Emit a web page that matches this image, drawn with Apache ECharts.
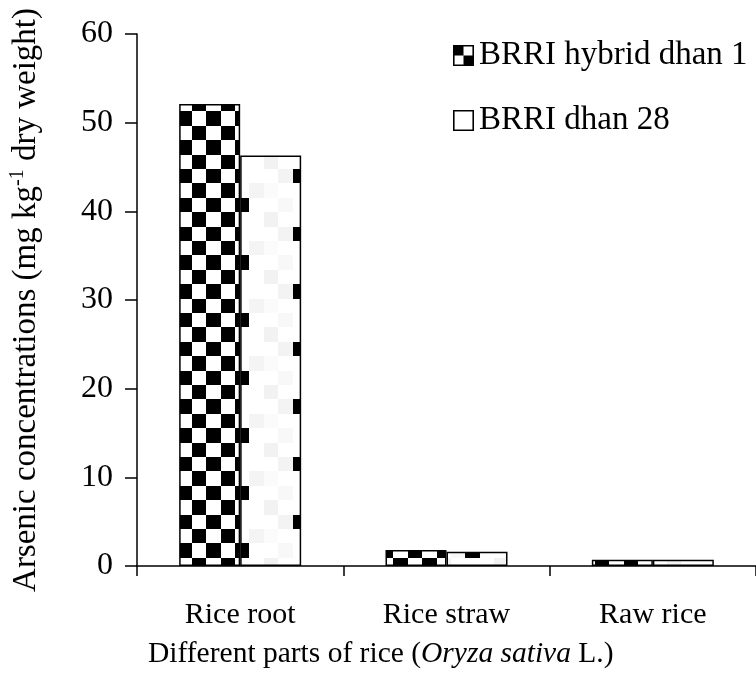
<!DOCTYPE html>
<html>
<head>
<meta charset="utf-8">
<script src="https://cdn.jsdelivr.net/npm/echarts@6/dist/echarts.min.js"></script>
<style>
  html, body { margin: 0; padding: 0; background: #fff; }
  #chart { width: 756px; height: 696px; }
</style>
</head>
<body>
<div id="chart"></div>
<script>
// 数据
var categories = ['Rice root', 'Rice straw', 'Raw rice'];
var hybridValues = [52.1, 1.8, 0.7];   // BRRI hybrid dhan 1
var dhan28Values = [46.3, 1.6, 0.7];   // BRRI dhan 28
var yTicks = [0, 10, 20, 30, 40, 50, 60];
var seriesNames = ['BRRI hybrid dhan 1', 'BRRI dhan 28'];

var FONT = '"Liberation Serif", "Times New Roman", serif';
var CELL = 14.4;

// 棋盘格填充
function makeTile(kind) {
    var cv = document.createElement('canvas');
    cv.width = 576; cv.height = 288;
    var ctx = cv.getContext('2d');
    ctx.fillStyle = '#fff';
    ctx.fillRect(0, 0, cv.width, cv.height);
    for (var c = 0; c < 40; c++) {
        for (var r = 0; r < 20; r++) {
            var x0 = Math.round(c * CELL), x1 = Math.round((c + 1) * CELL);
            var y0 = Math.round(r * CELL), y1 = Math.round((r + 1) * CELL);
            var fill = null;
            if (kind === 'checker') {
                if ((c + r) % 2 === 0) fill = '#000';
            } else {
                var cm = c % 8, rm = r % 4, c4 = c % 4;
                if ((cm === 4 && rm === 0) || (cm === 0 && rm === 2)) fill = '#000';
                else if (c4 === 2 && rm === 3) fill = '#f2f2f2';
                else if (c4 === 3 && rm === 0) fill = '#f3f3f3';
                else if (c4 === 1 && rm === 1) fill = '#f4f4f4';
                else if (c4 === 3 && rm === 2) fill = '#f8f8f8';
                else if (c4 === 2 && rm === 1) fill = '#fbfbfb';
            }
            if (fill) {
                ctx.fillStyle = fill;
                ctx.fillRect(x0, y0, x1 - x0, y1 - y0);
            }
        }
    }
    return cv;
}

var checkerFill = { image: makeTile('checker'), repeat: 'repeat', x: 235, y: 169 };
var lightFill = { image: makeTile('light'), repeat: 'repeat', x: 235, y: 169 };

// 图例图标：外框 + 两个黑块
var iconHybrid = 'path://M0,0H20V20H0Z M1.5,1.5V18.5H18.5V1.5Z M1,1H10V10H1Z M10,10H19V19H10Z';
var iconDhan = 'path://M0,0H20V20H0Z M1.5,1.5V18.5H18.5V1.5Z';

var myChart = echarts.init(document.getElementById('chart'));
var option = {
    backgroundColor: '#fff',
    animation: false,
    textStyle: { fontFamily: FONT, color: '#000' },
    title: {
        text: '{a|Different parts of rice (}{i|Oryza sativa}{a| L.)}',
        left: 148,
        top: 639,
        padding: 0,
        textStyle: {
            fontWeight: 'normal',
            rich: {
                a: { fontFamily: FONT, fontSize: 29.5, color: '#000', fontWeight: 'normal' },
                i: { fontFamily: FONT, fontSize: 29.5, color: '#000', fontWeight: 'normal', fontStyle: 'italic' }
            }
        }
    },
    legend: {
        orient: 'vertical',
        left: 453,
        top: 39,
        padding: 0,
        itemWidth: 21,
        itemHeight: 21,
        itemGap: 32,
        selectedMode: false,
        textStyle: { fontFamily: FONT, fontSize: 33, color: '#000' },
        data: [
            { name: seriesNames[0], icon: iconHybrid, itemStyle: { color: '#000', borderWidth: 0 } },
            { name: seriesNames[1], icon: iconDhan, itemStyle: { color: '#000', borderWidth: 0 } }
        ]
    },
    grid: { left: 137, top: 34, right: -3, bottom: 130 },
    xAxis: {
        type: 'category',
        data: categories,
        axisLine: { lineStyle: { color: '#000', width: 1.5 } },
        axisTick: { show: true, length: 10, lineStyle: { color: '#000', width: 1.5 } },
        axisLabel: { fontFamily: FONT, fontSize: 30, color: '#000', margin: 34 }
    },
    yAxis: {
        type: 'value',
        min: yTicks[0],
        max: yTicks[yTicks.length - 1],
        interval: 10,
        name: '{a|Arsenic concentrations (mg kg}{s|-1}{a| dry weight)}',
        nameLocation: 'middle',
        nameGap: 93,
        nameTextStyle: {
            rich: {
                a: { fontFamily: FONT, fontSize: 33, color: '#000', lineHeight: 36 },
                s: { fontFamily: FONT, fontSize: 20, color: '#000', verticalAlign: 'top', lineHeight: 36 }
            }
        },
        axisLine: { show: true, lineStyle: { color: '#000', width: 1.5 } },
        axisTick: { show: true, length: 12, lineStyle: { color: '#000', width: 1.5 } },
        axisLabel: { fontFamily: FONT, fontSize: 32, color: '#000', margin: 24 },
        splitLine: { show: false }
    },
    series: [
        {
            name: seriesNames[0],
            type: 'bar',
            data: hybridValues,
            barWidth: 61,
            barGap: '0%',
            itemStyle: { color: checkerFill, borderColor: '#000', borderWidth: 1.5 }
        },
        {
            name: seriesNames[1],
            type: 'bar',
            data: dhan28Values,
            barWidth: 61,
            barGap: '0%',
            itemStyle: { color: lightFill, borderColor: '#000', borderWidth: 1.5 }
        }
    ]
};
myChart.setOption(option);
</script>
</body>
</html>
